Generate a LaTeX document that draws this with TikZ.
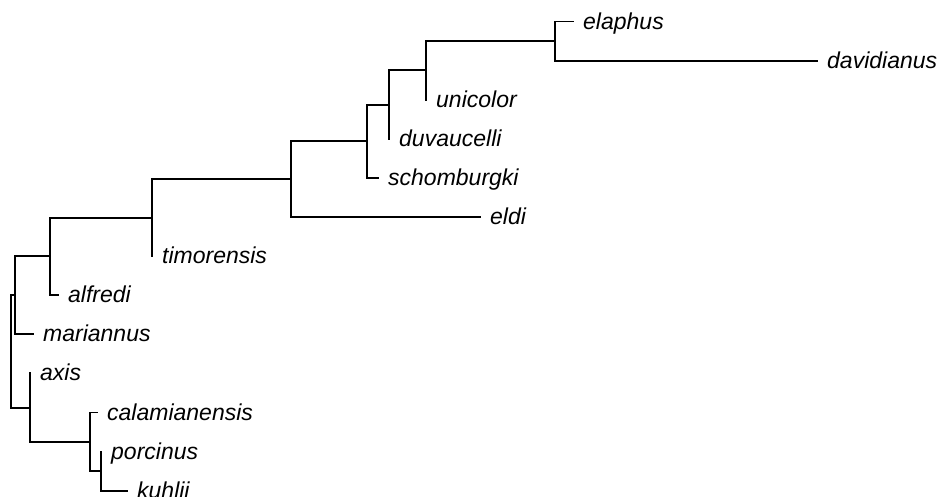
\documentclass[tikz,border=0pt]{standalone}
\usepackage{fontspec}
\setmainfont{Liberation Sans}
\begin{document}
\begin{tikzpicture}[x=1pt,y=-1pt,
  branch/.style={line width=1.9pt,line cap=rect},
  tiplabel/.style={anchor=base west,inner sep=0pt,xshift=10pt,yshift=-7.5pt,
    font=\fontsize{23}{27}\selectfont\itshape}]
\useasboundingbox (0,0) rectangle (940,496);
% internal nodes
\coordinate (R) at (11,351.5);
\coordinate (A) at (15,295.35);
\coordinate (E) at (50,256.4);
\coordinate (F) at (152,217.6);
\coordinate (G) at (291,179.1);
\coordinate (H) at (367,141.25);
\coordinate (I) at (389,104.6);
\coordinate (J) at (426,70.4);
\coordinate (K) at (555,41.05);
\coordinate (B) at (30,407.6);
\coordinate (C) at (90,441.8);
\coordinate (D) at (101,471.15);
% tips
\coordinate (elaphus) at (573,21.5);
\coordinate (davidianus) at (817,60.6);
\coordinate (unicolor) at (426,99.7);
\coordinate (duvaucelli) at (389,138.8);
\coordinate (schomburgki) at (378,177.9);
\coordinate (eldi) at (480,217);
\coordinate (timorensis) at (152,256.1);
\coordinate (alfredi) at (58,295.2);
\coordinate (mariannus) at (33,334.3);
\coordinate (axis) at (30,373.4);
\coordinate (calamianensis) at (97,412.5);
\coordinate (porcinus) at (101,451.6);
\coordinate (kuhlii) at (127,490.7);
% branches
\draw[branch] (R) |- (A);
\draw[branch] (R) |- (B);
\draw[branch] (A) |- (E);
\draw[branch] (A) |- (mariannus);
\draw[branch] (E) |- (F);
\draw[branch] (E) |- (alfredi);
\draw[branch] (F) |- (G);
\draw[branch] (F) |- (timorensis);
\draw[branch] (G) |- (H);
\draw[branch] (G) |- (eldi);
\draw[branch] (H) |- (I);
\draw[branch] (H) |- (schomburgki);
\draw[branch] (I) |- (J);
\draw[branch] (I) |- (duvaucelli);
\draw[branch] (J) |- (K);
\draw[branch] (J) |- (unicolor);
\draw[branch] (K) |- (elaphus);
\draw[branch] (K) |- (davidianus);
\draw[branch] (B) |- (axis);
\draw[branch] (B) |- (C);
\draw[branch] (C) |- (calamianensis);
\draw[branch] (C) |- (D);
\draw[branch] (D) |- (porcinus);
\draw[branch] (D) |- (kuhlii);
% labels
\foreach \t in {elaphus,davidianus,unicolor,duvaucelli,schomburgki,eldi,timorensis,alfredi,mariannus,axis,calamianensis,porcinus,kuhlii}
  \node[tiplabel] (\t-label) at (\t) {\t};
\end{tikzpicture}
\end{document}
